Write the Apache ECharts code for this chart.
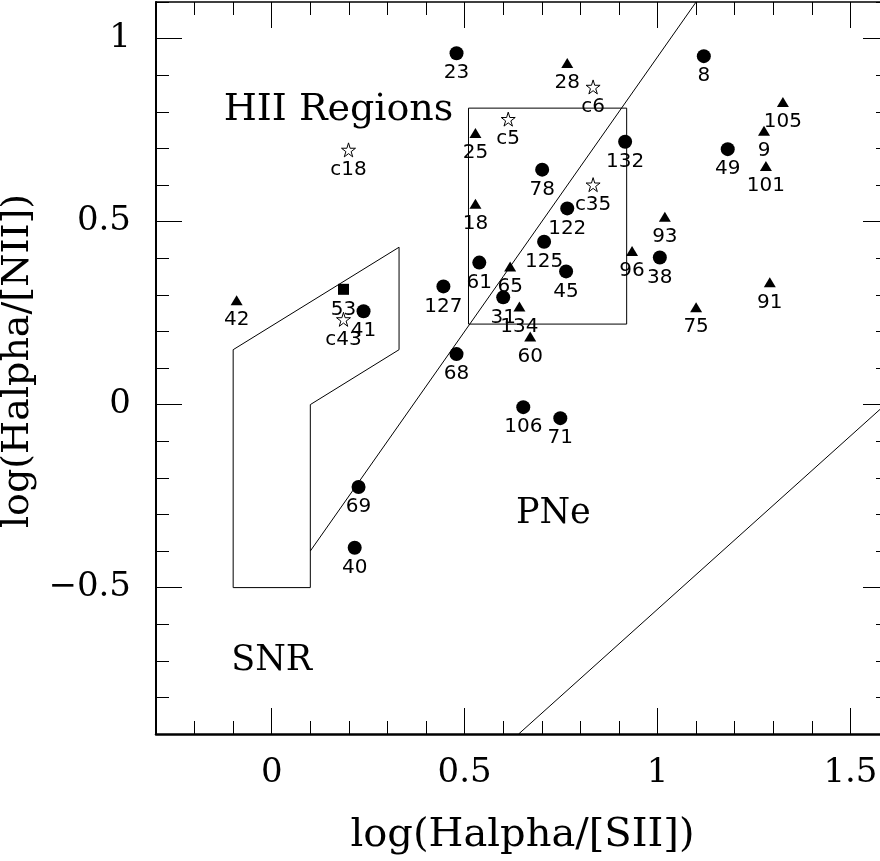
<!DOCTYPE html>
<html>
<head>
<meta charset="utf-8">
<script src="https://cdn.jsdelivr.net/npm/echarts@6/dist/echarts.min.js"></script>
<style>
html, body { margin: 0; padding: 0; background: #fff; }
#main { width: 880px; height: 861px; }
</style>
</head>
<body>
<div id="main"></div>
<script>
// filled circles
var circX = [0.479, 1.120, 0.916, 1.182, 0.701, 0.766, 0.706, 0.538, 0.763, 1.006, 0.445, 0.600, 0.238, 0.479, 0.652, 0.748, 0.225, 0.215];
var circY = [0.960, 0.952, 0.718, 0.698, 0.642, 0.536, 0.445, 0.388, 0.364, 0.402, 0.323, 0.293, 0.255, 0.138, -0.007, -0.037, -0.225, -0.391];
var circLab = ['23', '8', '132', '49', '78', '122', '125', '61', '45', '38', '127', '31', '41', '68', '106', '71', '69', '40'];

// filled triangles
var triX = [0.766, 1.325, 1.276, 1.281, 0.528, 0.528, 1.019, 0.934, 0.618, 0.642, 0.670, 1.100, 1.291, -0.091];
var triY = [0.933, 0.827, 0.748, 0.652, 0.742, 0.549, 0.513, 0.420, 0.377, 0.268, 0.186, 0.266, 0.334, 0.285];
var triLab = ['28', '105', '9', '101', '25', '18', '93', '96', '65', '134', '60', '75', '91', '42'];

// open stars
var starX = [0.833, 0.613, 0.833, 0.199, 0.186];
var starY = [0.868, 0.780, 0.601, 0.696, 0.233];
var starLab = ['c6', 'c5', 'c35', 'c18', 'c43'];

// filled square
var sqX = [0.186];
var sqY = [0.315];
var sqLab = ['53'];

// region boundaries
var snrBox = [[-0.1, -0.5], [0.1, -0.5], [0.1, 0], [0.33, 0.15], [0.33, 0.43], [-0.1, 0.15], [-0.1, -0.5]];
var hiiLine = [[0.1, -0.4], [1.1, 1.1]];
var pneLine = [[0.64, -0.9], [1.6, 0.009]];
var rectBox = [[0.51, 0.22], [0.92, 0.22], [0.92, 0.81], [0.51, 0.81], [0.51, 0.22]];

// region names
var regionNames = ['HII Regions', 'PNe', 'SNR'];
var regionX = [0.173, 0.730, 0.0];
var regionY = [0.805, -0.298, -0.70];
var regionSize = [38, 35, 35];

// ticks
var xMajor = [0, 0.5, 1, 1.5];
var xMinor = [-0.2, -0.1, 0.1, 0.2, 0.3, 0.4, 0.6, 0.7, 0.8, 0.9, 1.1, 1.2, 1.3, 1.4, 1.6];
var yMajor = [-0.5, 0, 0.5, 1];
var yMinor = [-0.8, -0.7, -0.6, -0.4, -0.3, -0.2, -0.1, 0.1, 0.2, 0.3, 0.4, 0.6, 0.7, 0.8, 0.9, 1.1];

var XMIN = -0.3, XMAX = 1.6, YMIN = -0.9, YMAX = 1.1;

function pts(xs, ys, labs) {
	var out = [];
	for (var i = 0; i < xs.length; i++) {
		out.push([xs[i], ys[i], labs[i]]);
	}
	return out;
}

function fmt(v) {
	return String(v).replace('-', '\u2212');
}

var ptLabel = {
	show : true,
	position : 'inside',
	offset : [ 0, 20 ],
	formatter : function(p) { return p.value[2]; },
	fontFamily : 'DejaVu Sans',
	fontSize : 20,
	color : '#000'
};

function xax(pos, ticks, len, showLine, lineW, showLab) {
	return {
		type : 'value', position : pos, min : XMIN, max : XMAX,
		splitLine : { show : false },
		axisLine : { show : showLine, onZero : false, lineStyle : { color : '#000', width : lineW } },
		axisTick : { show : true, inside : true, length : len, customValues : ticks, lineStyle : { color : '#000', width : 1 } },
		axisLabel : { show : showLab, customValues : xMajor, formatter : fmt, margin : 22,
			fontFamily : 'DejaVu Serif', fontSize : 34, color : '#000' }
	};
}

function yax(pos, ticks, len, showLine, lineW, showLab) {
	return {
		type : 'value', position : pos, min : YMIN, max : YMAX,
		splitLine : { show : false },
		axisLine : { show : showLine, onZero : false, lineStyle : { color : '#000', width : lineW } },
		axisTick : { show : true, inside : true, length : len, customValues : ticks, lineStyle : { color : '#000', width : 1 } },
		axisLabel : { show : showLab, customValues : yMajor, formatter : fmt, margin : 25,
			fontFamily : 'DejaVu Serif', fontSize : 34, color : '#000' }
	};
}

var chart = echarts.init(document.getElementById('main'));

var xAxes = [
	xax('bottom', xMajor, 26, true, 2.5, true),
	xax('bottom', xMinor, 13, false, 1, false),
	xax('top', xMajor, 26, true, 1.5, false),
	xax('top', xMinor, 13, false, 1, false)
];
xAxes[0].name = 'log(Halpha/[SII])';
xAxes[0].nameLocation = 'middle';
xAxes[0].nameGap = 82;
xAxes[0].nameTextStyle = { fontFamily : 'DejaVu Serif', fontSize : 40, color : '#000' };

var yAxes = [
	yax('left', yMajor, 26, true, 2, true),
	yax('left', yMinor, 13, false, 1, false),
	yax('right', yMajor, 26, true, 1.5, false),
	yax('right', yMinor, 13, false, 1, false)
];
yAxes[0].name = 'log(Halpha/[NII])';
yAxes[0].nameLocation = 'middle';
yAxes[0].nameRotate = 90;
yAxes[0].nameGap = 93;
yAxes[0].nameTextStyle = { fontFamily : 'DejaVu Serif', fontSize : 38, color : '#000', padding : [ 0, 0, 0, 14 ] };

function lineSeries(d) {
	return {
		type : 'line', data : d, symbol : 'none', silent : true, clip : true,
		lineStyle : { color : '#000', width : 1 }, z : 1
	};
}

var regionData = [];
for (var i = 0; i < regionNames.length; i++) {
	regionData.push({
		value : [regionX[i], regionY[i], regionNames[i]],
		label : { fontSize : regionSize[i] }
	});
}

var option = {
	animation : false,
	backgroundColor : '#fff',
	grid : { left : 156, width : 733, top : 2, bottom : 127, outerBoundsMode : 'none', containLabel : false },
	xAxis : xAxes,
	yAxis : yAxes,
	series : [
		lineSeries(snrBox),
		lineSeries(hiiLine),
		lineSeries(pneLine),
		lineSeries(rectBox),
		{
			type : 'scatter', data : regionData, symbolSize : 0, silent : true,
			itemStyle : { opacity : 1 },
			label : { show : true, position : 'inside', formatter : function(p) { return p.value[2]; },
				fontFamily : 'DejaVu Serif', fontSize : 35, color : '#000' }
		},
		{
			type : 'scatter', data : pts(circX, circY, circLab), symbol : 'circle', symbolSize : 14,
			itemStyle : { color : '#000', opacity : 1 }, label : ptLabel, z : 3
		},
		{
			type : 'scatter', data : pts(triX, triY, triLab), symbol : 'triangle', symbolSize : [ 12, 10 ],
			itemStyle : { color : '#000', opacity : 1 }, label : ptLabel, z : 3
		},
		{
			type : 'scatter', data : pts(starX, starY, starLab),
			symbol : 'path://M50,0 L61,35 L98,35 L68,57 L79,91 L50,70 L21,91 L32,57 L2,35 L39,35 Z',
			symbolSize : 14,
			itemStyle : { color : '#fff', borderColor : '#000', borderWidth : 1, opacity : 1 }, label : ptLabel, z : 3
		},
		{
			type : 'scatter', data : pts(sqX, sqY, sqLab), symbol : 'rect', symbolSize : 11,
			itemStyle : { color : '#000', opacity : 1 }, label : ptLabel, z : 3
		}
	]
};

chart.setOption(option);
</script>
</body>
</html>
